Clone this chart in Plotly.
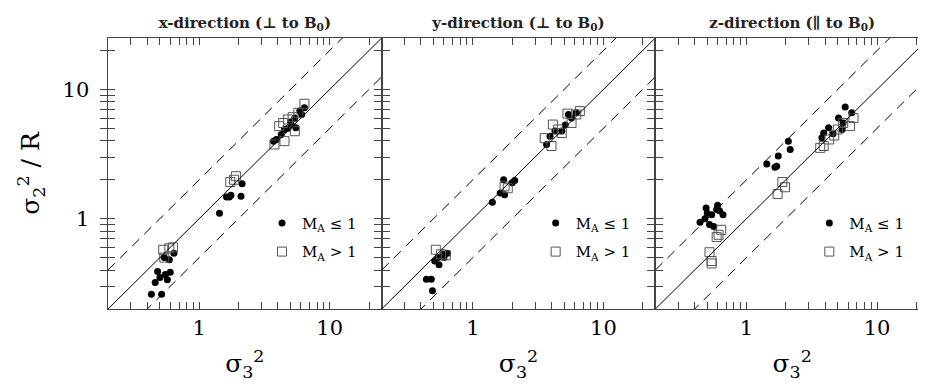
import plotly.graph_objects as go

# ---- data (sigma_3^2 on x, sigma_2^2 / R on y) ----
# x-direction panel
xdir_low_x = [0.43, 0.515, 0.48, 0.50, 0.55, 0.60, 0.57, 0.46, 0.59, 0.64, 0.54,
              1.43, 1.62, 1.75, 1.70, 2.09, 2.13,
              3.71, 3.90, 4.25, 4.50, 4.80, 5.07, 5.40, 5.50, 5.90, 6.40, 5.00, 6.10]
xdir_low_y = [0.26, 0.26, 0.39, 0.35, 0.37, 0.385, 0.337, 0.32, 0.48, 0.54, 0.50,
              1.10, 1.47, 1.52, 1.47, 1.49, 1.86,
              3.98, 4.10, 4.48, 4.90, 5.00, 5.35, 6.00, 5.05, 6.80, 7.20, 5.60, 6.40]
xdir_high_x = [0.53, 0.59, 0.54, 0.63,
               1.73, 1.91, 1.85,
               3.77, 4.50, 4.10, 4.40, 4.80, 5.40, 5.75, 6.40, 5.20]
xdir_high_y = [0.575, 0.59, 0.50, 0.60,
               1.92, 2.13, 2.00,
               3.75, 3.98, 5.20, 5.50, 5.85, 4.75, 6.60, 7.75, 6.10]

# y-direction panel
ydir_low_x = [0.44, 0.48, 0.49, 0.51, 0.55, 0.59, 0.64, 0.54, 0.60,
              1.41, 1.62, 1.75, 1.72, 2.09, 2.00,
              3.67, 3.90, 4.25, 4.80, 5.40, 5.70, 6.20, 5.10]
ydir_low_y = [0.34, 0.34, 0.277, 0.47, 0.44, 0.53, 0.54, 0.50, 0.50,
              1.34, 1.58, 1.53, 2.00, 1.97, 1.90,
              3.75, 4.35, 4.76, 4.76, 6.40, 6.00, 6.60, 5.30]
ydir_high_x = [0.52, 0.57, 0.62,
               1.75, 1.85,
               3.55, 4.00, 4.10, 4.50, 5.30, 5.70, 6.20, 6.60, 4.80]
ydir_high_y = [0.575, 0.53, 0.52,
               1.78, 1.72,
               4.20, 3.65, 5.35, 4.90, 6.50, 5.50, 6.40, 6.80, 4.60]

# z-direction panel
zdir_low_x = [0.44, 0.49, 0.50, 0.54, 0.60, 0.66, 0.59, 0.52, 0.56, 0.48, 0.62,
              1.43, 1.65, 1.75, 2.09, 2.16, 1.70,
              3.78, 3.90, 4.25, 5.07, 5.70, 6.40, 5.50, 5.40, 4.60]
zdir_low_y = [0.94, 1.21, 1.10, 1.07, 1.27, 1.07, 1.18, 0.90, 0.87, 1.00, 1.15,
              2.65, 2.50, 3.05, 3.98, 3.43, 2.55,
              4.22, 4.60, 5.05, 6.00, 7.30, 6.60, 5.50, 4.90, 4.55]
zdir_high_x = [0.64, 0.59, 0.61, 0.52, 0.54, 0.54,
               1.88, 1.97, 1.73,
               3.67, 3.90, 4.30, 4.70, 5.00, 5.50, 6.60, 6.20]
zdir_high_y = [0.82, 0.72, 0.75, 0.55, 0.45, 0.47,
               1.92, 1.75, 1.55,
               3.53, 3.65, 4.10, 4.40, 4.90, 5.50, 6.00, 5.20]

panel_titles = ["<b>x-direction (\u22a5 to B<sub>0</sub>)</b>",
                "<b>y-direction (\u22a5 to B<sub>0</sub>)</b>",
                "<b>z-direction (\u2225 to B<sub>0</sub>)</b>"]
axis_range = [0.2, 25]
ratio_lines = [2, 0.5]
major_ticks = [1, 10]
minor_ticks = [0.2, 0.3, 0.4, 0.5, 0.6, 0.7, 0.8, 0.9,
               2, 3, 4, 5, 6, 7, 8, 9, 20]
all_ticks = sorted(major_ticks + minor_ticks)
x_text = [("%g" % v if v in major_ticks else "") for v in all_ticks]
y_text = [("%g\u00a0\u00a0" % v if v in major_ticks else "") for v in all_ticks]
no_text = ["" for v in all_ticks]

panels = [(xdir_low_x, xdir_low_y, xdir_high_x, xdir_high_y),
          (ydir_low_x, ydir_low_y, ydir_high_x, ydir_high_y),
          (zdir_low_x, zdir_low_y, zdir_high_x, zdir_high_y)]

SERIF = "DejaVu Serif"
FRAME = "#444444"
W, H = 926, 391
L, R, T, B = 100, 5, 30, 90
PW = W - L - R
LOGRANGE = [-0.699, 1.398]

fig = go.Figure()
layout = dict(width=W, height=H, margin=dict(l=L, r=R, t=T, b=B),
              paper_bgcolor="white", plot_bgcolor="white",
              font=dict(family=SERIF, color="black"))

for i, (lx, ly, hx, hy) in enumerate(panels):
    n = "" if i == 0 else str(i + 1)
    m = str(i + 4)  # top axis that carries the panel title
    xa, ya = "x" + n, "y" + n
    xt = "x" + m
    leg = "legend" + n

    # y = x on the title axis (same range), factor-of-two lines on the main axes
    fig.add_trace(go.Scatter(x=axis_range, y=axis_range, xaxis=xt, yaxis=ya,
                             mode="lines", showlegend=False,
                             line=dict(color="black", width=1)))
    for r in ratio_lines:
        fig.add_trace(go.Scatter(x=axis_range, y=[v * r for v in axis_range],
                                 xaxis=xa, yaxis=ya, mode="lines", showlegend=False,
                                 line=dict(color="black", width=1, dash="10px,7px")))
    fig.add_trace(go.Scatter(x=lx, y=ly, xaxis=xa, yaxis=ya, mode="markers",
                             name="M<sub>A</sub> \u2264 1", legend=leg,
                             legendgroup="a" + n,
                             marker=dict(symbol="circle", size=7, color="black")))
    fig.add_trace(go.Scatter(x=hx, y=hy, xaxis=xa, yaxis=ya, mode="markers",
                             name="M<sub>A</sub> > 1", legend=leg,
                             legendgroup="b" + n,
                             marker=dict(symbol="square-open", size=9, color="#555555",
                                         line=dict(width=1))))

    d0 = i / 3.0
    d1 = (i + 1) / 3.0
    layout["xaxis" + n] = dict(
        type="log", range=LOGRANGE, domain=[d0, d1], anchor=ya,
        showgrid=False, zeroline=False, showline=True, linecolor=FRAME,
        linewidth=1.3, mirror="allticks", ticks="inside", ticklen=7, tickwidth=1,
        tickcolor=FRAME, tickmode="array", tickvals=all_ticks, ticktext=x_text,
        tickfont=dict(family=SERIF, size=21),
        title=dict(text="\u03c3<sub>3</sub><sup>2</sup>",
                   font=dict(family=SERIF, size=25)))
    layout["yaxis" + n] = dict(
        type="log", range=LOGRANGE, domain=[0, 1], anchor=xa,
        showgrid=False, zeroline=False, showline=True, linecolor=FRAME,
        linewidth=1.3, mirror="allticks", ticks="inside", ticklen=7, tickwidth=1,
        tickcolor=FRAME, tickmode="array", tickvals=all_ticks,
        ticktext=(y_text if i == 0 else no_text),
        tickfont=dict(family=SERIF, size=21),
        title=dict(text=("\u03c3<sub>2</sub><sup>2</sup> / R" if i == 0 else ""),
                   font=dict(family=SERIF, size=25)))
    layout["xaxis" + m] = dict(
        type="log", range=LOGRANGE, domain=[d0, d1], anchor=ya, overlaying=xa,
        side="top", showgrid=False, zeroline=False, showline=False, ticks="",
        showticklabels=False,
        title=dict(text=panel_titles[i], standoff=4,
                   font=dict(family=SERIF, size=15, color="#222222")))

    x_leg = (i * PW / 3.0 + 154) / PW
    layout[leg] = dict(x=x_leg, y=0.377, xanchor="left", yanchor="top",
                       bgcolor="rgba(0,0,0,0)", borderwidth=0,
                       tracegroupgap=6, itemwidth=30,
                       font=dict(family=SERIF, size=15, color="black"))

fig.update_layout(**layout)
fig.write_html("out.html")
